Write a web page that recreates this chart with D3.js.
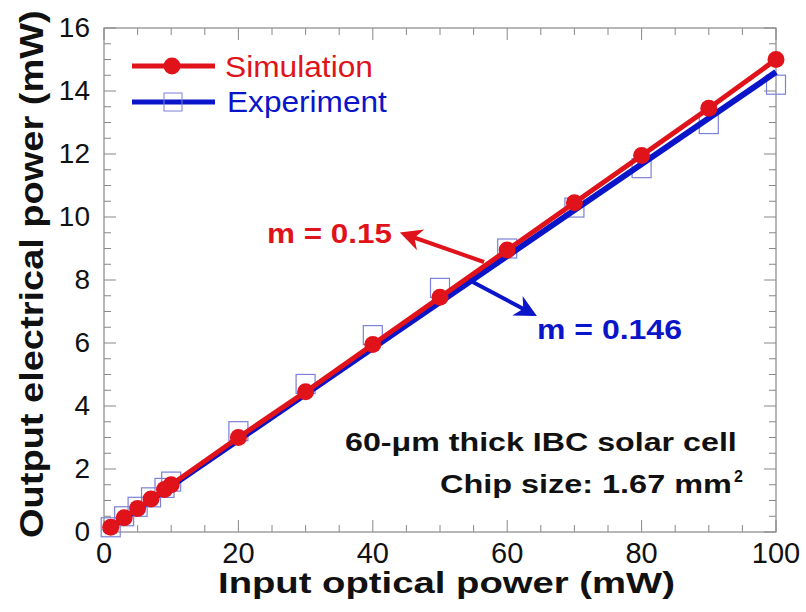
<!DOCTYPE html>
<html>
<head>
<meta charset="utf-8">
<script src="https://cdn.jsdelivr.net/npm/d3@7"></script>
<style>
  body { margin: 0; background: #fff; }
  text { font-family: "Liberation Sans", Arial, sans-serif; }
</style>
</head>
<body>
<div id="chart"></div>
<script>
// data
const simX = [1, 3, 5, 7, 9, 10, 20, 30, 40, 50, 60, 70, 80, 90, 100];
const simY = [0.15, 0.45, 0.75, 1.05, 1.35, 1.5, 3.0, 4.45, 5.95, 7.45, 8.95, 10.45, 11.95, 13.45, 15.0];
const expX = [1, 3, 5, 7, 9, 10, 20, 30, 40, 50, 60, 70, 80, 90, 100];
const expY = [0.15, 0.5, 0.8, 1.1, 1.4, 1.6, 3.2, 4.7, 6.25, 7.75, 9.0, 10.3, 11.55, 12.95, 14.2];
const fitX = [0, 100];
const fitY = [0, 14.6];
const xTicks = [0, 20, 40, 60, 80, 100];
const yTicks = [0, 2, 4, 6, 8, 10, 12, 14, 16];

const W = 806, H = 612;
const margin = { top: 28, right: 30, bottom: 80, left: 104 };
const red = "#e0131b", blue = "#0a14c8";

const svg = d3.select("#chart").append("svg").attr("width", W).attr("height", H);

const x = d3.scaleLinear().domain([0, 100]).range([margin.left, W - margin.right]);
const y = d3.scaleLinear().domain([0, 16]).range([H - margin.bottom, margin.top]);

// text stretched horizontally to a given width (the original figure is squashed)
function wideText(parent, str, x0, y0, width, size, weight, color, rotate) {
  const gg = parent.append("g");
  const t = gg.append("text")
    .style("font-size", size + "px").style("font-weight", weight).style("fill", color)
    .text(str);
  const sx = width / t.node().getComputedTextLength();
  gg.attr("transform", rotate
    ? `translate(${x0},${y0}) rotate(-90) scale(${sx},1)`
    : `translate(${x0},${y0}) scale(${sx},1)`);
  return gg;
}

const g = svg.append("g");

// frame
g.append("rect")
  .attr("x", x(0)).attr("y", y(16))
  .attr("width", x(100) - x(0)).attr("height", y(0) - y(16))
  .attr("fill", "none").attr("stroke", "#888").attr("stroke-width", 1.2);

// ticks (inside, mirrored)
const tickCol = "#888";
const minorX = d3.range(0, 101, 5), minorY = d3.range(0, 16.01, 0.5);
minorX.forEach(v => {
  const len = v % 20 === 0 ? 12 : 7;
  g.append("line").attr("x1", x(v)).attr("x2", x(v)).attr("y1", y(0)).attr("y2", y(0) - len).attr("stroke", tickCol);
  g.append("line").attr("x1", x(v)).attr("x2", x(v)).attr("y1", y(16)).attr("y2", y(16) + len).attr("stroke", tickCol);
});
minorY.forEach(v => {
  const len = v % 2 === 0 ? 12 : 7;
  g.append("line").attr("y1", y(v)).attr("y2", y(v)).attr("x1", x(0)).attr("x2", x(0) + len).attr("stroke", tickCol);
  g.append("line").attr("y1", y(v)).attr("y2", y(v)).attr("x1", x(100)).attr("x2", x(100) - len).attr("stroke", tickCol);
});

// tick labels
g.selectAll(".xl").data(xTicks).join("text")
  .attr("x", d => x(d)).attr("y", y(0) + 31)
  .attr("text-anchor", "middle").style("font-size", "29px").style("fill", "#111")
  .text(d => d);
g.selectAll(".yl").data(yTicks).join("text")
  .attr("x", x(0) - 14).attr("y", d => y(d) + 9)
  .attr("text-anchor", "end").style("font-size", "28px").style("fill", "#111")
  .text(d => d);

// axis titles
wideText(svg, "Input optical power (mW)", 218, 593, 457, 30, "bold", "#111");
wideText(svg, "Output electrical power (mW)", 43, 538, 528, 34, "bold", "#111", true);

// experiment squares
const sq = 19;
g.selectAll(".exp").data(expX.map((v, i) => [v, expY[i]])).join("rect")
  .attr("x", d => x(d[0]) - sq / 2).attr("y", d => y(d[1]) - sq / 2)
  .attr("width", sq).attr("height", sq)
  .attr("fill", "none").attr("stroke", "#7c80d8").attr("stroke-width", 1.2);

// fit line (experiment)
const line = d3.line().x(d => x(d[0])).y(d => y(d[1]));
g.append("path").datum(fitX.map((v, i) => [v, fitY[i]]))
  .attr("d", line).attr("stroke", blue).attr("stroke-width", 6).attr("fill", "none");

// simulation line and points
g.append("path").datum(simX.map((v, i) => [v, simY[i]]))
  .attr("d", line).attr("stroke", red).attr("stroke-width", 5).attr("fill", "none");
g.selectAll(".sim").data(simX.map((v, i) => [v, simY[i]])).join("circle")
  .attr("cx", d => x(d[0])).attr("cy", d => y(d[1])).attr("r", 8.5)
  .attr("fill", red);

// legend
const leg = svg.append("g");
leg.append("line").attr("x1", 132).attr("x2", 215).attr("y1", 66).attr("y2", 66).attr("stroke", red).attr("stroke-width", 5);
leg.append("circle").attr("cx", 172).attr("cy", 66).attr("r", 8.5).attr("fill", red);
wideText(leg, "Simulation", 225, 77, 148, 29, "normal", red);
leg.append("line").attr("x1", 132).attr("x2", 215).attr("y1", 102).attr("y2", 102).attr("stroke", blue).attr("stroke-width", 5);
leg.append("rect").attr("x", 164).attr("y", 93).attr("width", 18).attr("height", 18).attr("fill", "none").attr("stroke", "#7c80d8");
wideText(leg, "Experiment", 227, 112, 160, 29, "normal", blue);

// arrows
const defs = svg.append("defs");
[["ar", red], ["ab", blue]].forEach(([id, c]) => {
  defs.append("marker").attr("id", id).attr("viewBox", "0 0 10 10")
    .attr("refX", 8).attr("refY", 5)
    .attr("markerUnits", "userSpaceOnUse").attr("orient", "auto")
    .attr("markerWidth", 28).attr("markerHeight", 22)
    .append("path").attr("d", "M0,0 L10,5 L0,10 L3,5 Z").attr("fill", c);
});
svg.append("line").attr("x1", 484).attr("y1", 262).attr("x2", 404).attr("y2", 234)
  .attr("stroke", red).attr("stroke-width", 4).attr("marker-end", "url(#ar)");
svg.append("line").attr("x1", 469).attr("y1", 280).attr("x2", 533).attr("y2", 314)
  .attr("stroke", blue).attr("stroke-width", 4).attr("marker-end", "url(#ab)");

wideText(svg, "m = 0.15", 267, 243, 125, 27, "bold", red);
wideText(svg, "m = 0.146", 537, 339, 145, 27, "bold", blue);

// info text
wideText(svg, "60-\u03bcm thick IBC solar cell", 345, 451, 392, 25, "bold", "#111");
wideText(svg, "Chip size: 1.67 mm", 440, 493, 292, 25, "bold", "#111");
svg.append("text").attr("x", 734).attr("y", 482)
  .style("font-size", "16px").style("font-weight", "bold").style("fill", "#111")
  .text("2");
</script>
</body>
</html>
